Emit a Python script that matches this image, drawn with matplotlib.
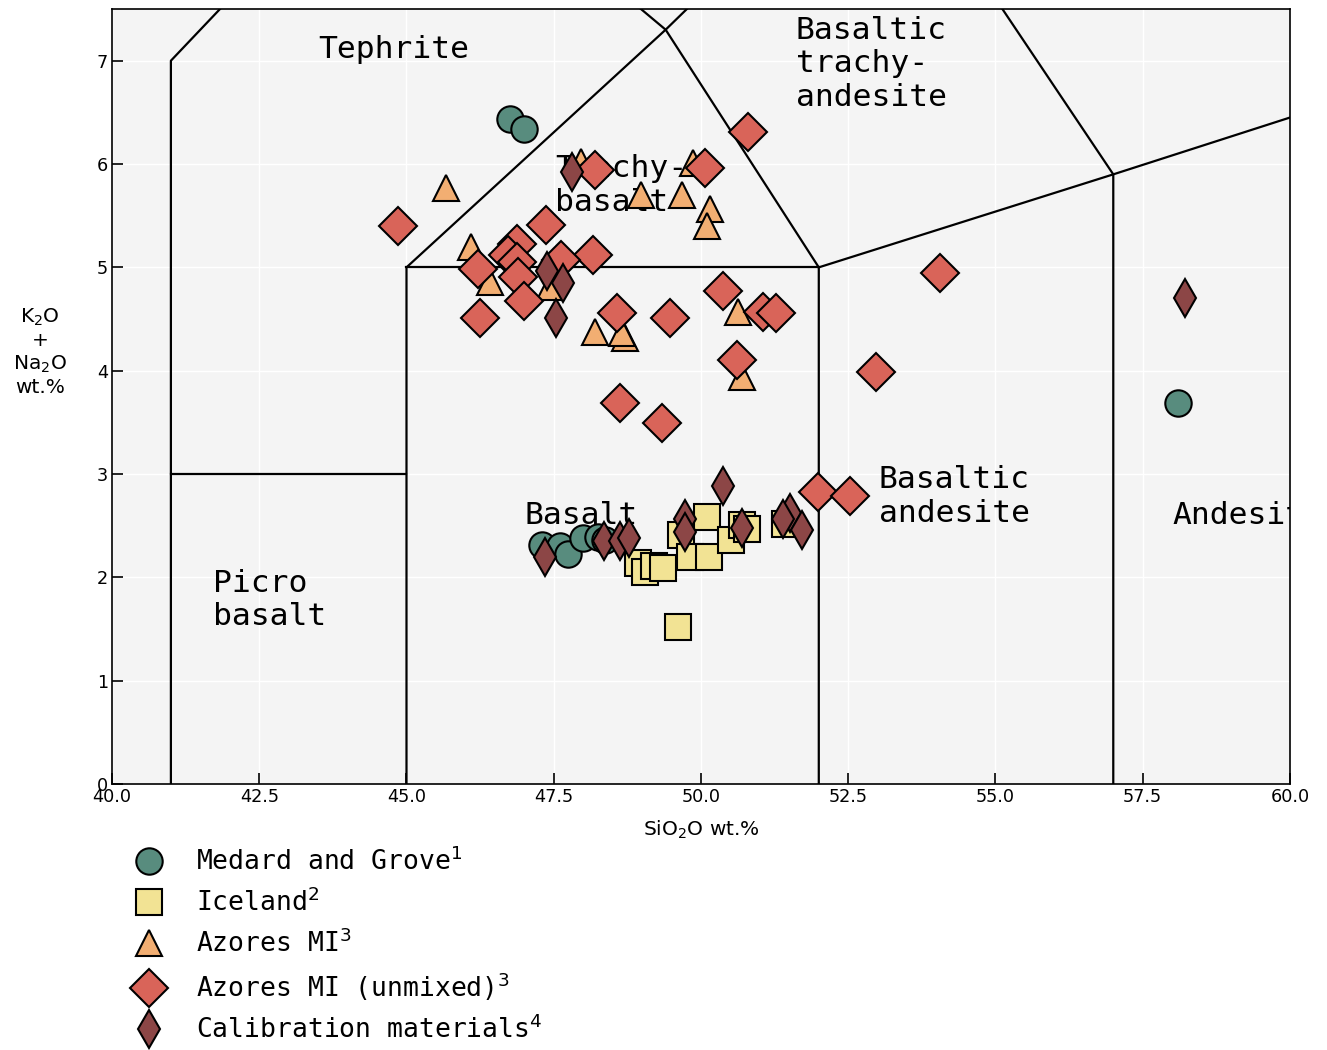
import matplotlib
matplotlib.use("Agg")
import matplotlib.pyplot as plt

# sample compositions, SiO2 vs total alkalis (wt.%)
medard_sio2 = [46.76, 46.99, 58.10, 47.30, 47.61, 47.74, 48.00, 48.25, 48.37]
medard_alk = [6.44, 6.34, 3.69, 2.31, 2.30, 2.23, 2.38, 2.39, 2.36]

iceland_sio2 = [48.93, 49.05, 49.20, 49.35, 49.66, 50.10, 49.81, 50.14, 50.51, 50.70,
                50.78, 51.43, 49.61]
iceland_alk = [2.14, 2.05, 2.11, 2.09, 2.41, 2.58, 2.20, 2.20, 2.36, 2.51,
               2.47, 2.52, 1.52]

azores_sio2 = [45.67, 46.09, 46.42, 47.44, 47.97, 48.99, 49.67, 49.86, 50.15, 50.10,
               48.20, 48.71, 48.66, 50.63, 50.69]
azores_alk = [5.77, 5.20, 4.86, 4.81, 6.02, 5.70, 5.70, 6.01, 5.56, 5.40,
              4.37, 4.32, 4.36, 4.57, 3.94]

unmixed_sio2 = [44.86, 46.25, 46.21, 47.37, 48.17, 46.87, 46.73, 46.87, 46.90, 47.00,
                47.63, 48.20, 50.07, 48.57, 49.48, 50.38, 51.06, 51.28, 50.80, 50.61,
                48.62, 49.34, 52.97, 54.06, 51.99, 52.53]
unmixed_alk = [5.40, 4.51, 4.98, 5.41, 5.12, 5.23, 5.12, 5.05, 4.91, 4.67,
               5.07, 5.94, 5.96, 4.56, 4.51, 4.77, 4.57, 4.56, 6.31, 4.10,
               3.69, 3.49, 3.99, 4.95, 2.83, 2.79]

calib_sio2 = [47.81, 47.38, 47.66, 47.54, 58.22, 50.37, 47.35, 48.35, 48.62, 48.77,
              49.73, 49.73, 50.69, 51.51, 51.39, 51.71]
calib_alk = [5.92, 4.96, 4.85, 4.51, 4.70, 2.88, 2.20, 2.35, 2.35, 2.38,
             2.56, 2.44, 2.48, 2.62, 2.56, 2.46]

# TAS field boundaries (Le Bas et al.)
tas_lines = [
    [(41, 0), (41, 7), (45, 9.4)],
    [(41, 3), (45, 3)],
    [(45, 0), (45, 5), (49.4, 7.3), (45, 9.4)],
    [(45, 5), (52, 5)],
    [(52, 0), (52, 5), (49.4, 7.3), (53, 9.3)],
    [(52, 5), (57, 5.9), (63, 7)],
    [(57, 0), (57, 5.9), (53, 9.3)],
]

field_names = ["Tephrite", "Trachy-\nbasalt", "Basaltic\ntrachy-\nandesite", "Basalt",
               "Basaltic\nandesite", "Picro\nbasalt", "Andesite"]
field_x = [43.5, 47.52, 51.61, 47.01, 53.02, 41.71, 58.01]
field_y = [7.11, 5.79, 6.97, 2.60, 2.78, 1.78, 2.60]

fig = plt.figure(figsize=(13.27, 10.5), dpi=100)
ax = fig.add_axes([0.0844, 0.2533, 0.8877, 0.7381])
ax.set_facecolor("#f4f4f4")
ax.grid(True, color="white", linewidth=1.0, zorder=0)
ax.set_axisbelow(True)

for seg in tas_lines:
    xs = [p[0] for p in seg]
    ys = [p[1] for p in seg]
    ax.plot(xs, ys, color="black", linewidth=1.6, zorder=1)

for name, x, y in zip(field_names, field_x, field_y):
    ax.text(x, y, name, family="DejaVu Sans Mono", fontsize=22.6, ha="left",
            va="center", linespacing=1.2, clip_on=True, zorder=1.5)

style = dict(linestyle="none", markersize=19, markeredgecolor="black",
             markeredgewidth=1.5, zorder=3)
ax.plot(medard_sio2, medard_alk, marker="o", color="#588c7e",
        label="Medard and Grove$^1$", **style)
ax.plot(iceland_sio2, iceland_alk, marker="s", color="#f2e394",
        label="Iceland$^2$", **style)
ax.plot(azores_sio2, azores_alk, marker="^", color="#f2ae72",
        label="Azores MI$^3$", **style)
ax.plot(unmixed_sio2, unmixed_alk, marker="D", color="#d96459",
        label="Azores MI (unmixed)$^3$", **style)
ax.plot(calib_sio2, calib_alk, marker="d", color="#8c4646",
        label="Calibration materials$^4$", **style)

ax.set_xlim(40, 60)
ax.set_ylim(0, 7.5)
ax.set_xticks([40, 42.5, 45, 47.5, 50, 52.5, 55, 57.5, 60])
ax.set_xticklabels(["40.0", "42.5", "45.0", "47.5", "50.0", "52.5", "55.0", "57.5", "60.0"])
ax.set_yticks(range(8))
ax.tick_params(direction="in", length=8, width=1.2, labelsize=12.7, pad=3)
for sp in ax.spines.values():
    sp.set_linewidth(1.2)
    sp.set_color("black")

ax.set_xlabel("SiO$_2$O wt.%", fontsize=14.5, labelpad=9)
ax.set_ylabel("K$_2$O\n+\nNa$_2$O\nwt.%", fontsize=14.5, rotation=0,
              ha="center", va="bottom")
ax.yaxis.set_label_coords(-0.061, 0.5)

fig.legend(loc="upper left", bbox_to_anchor=(0.0825, 0.205), frameon=False,
           prop={"family": "DejaVu Sans Mono", "size": 19}, labelspacing=0.47,
           handletextpad=0.78, borderpad=0)

fig.savefig("out.png", dpi=100)
